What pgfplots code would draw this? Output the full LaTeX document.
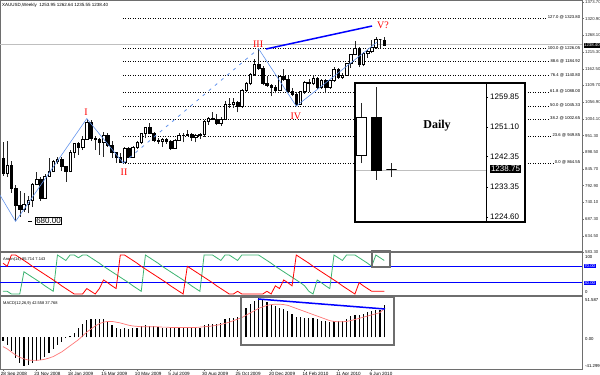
\documentclass[border=0pt]{standalone}
\usepackage{pgfplots}
\pgfplotsset{compat=1.18}
\usepackage{pgfplotstable}
\usepackage{fontspec}
\setmainfont{Liberation Sans}
\newfontfamily\tnr{Liberation Serif}
\definecolor{wave}{RGB}{100,149,237}
\definecolor{agreen}{RGB}{60,179,113}
\definecolor{sig}{RGB}{255,120,120}
\definecolor{frame}{RGB}{110,110,110}
\newcommand{\fs}[1]{\fontsize{#1}{#1}\selectfont}
% candles from a table: #1 table, #2 last row, #3 half body width, #4 wick width, #5 outline width
\newcommand\candles[5]{%
 \pgfplotsinvokeforeach{0,...,#2}{%
   \pgfplotstablegetelem{##1}{O}\of#1\edef\vO{\pgfplotsretval}%
   \pgfplotstablegetelem{##1}{H}\of#1\edef\vH{\pgfplotsretval}%
   \pgfplotstablegetelem{##1}{L}\of#1\edef\vL{\pgfplotsretval}%
   \pgfplotstablegetelem{##1}{C}\of#1\edef\vC{\pgfplotsretval}%
   \pgfmathsetmacro\xl{##1-#3}\pgfmathsetmacro\xr{##1+#3}%
   \ifdim\vC pt>\vO pt\def\fc{white}\else\def\fc{black}\fi
   \edef\tmp{\noexpand\addplot[black!85, line width=#4, forget plot] coordinates {(##1,\vL) (##1,\vH)};%
     \noexpand\addplot[draw=black, line width=#5, fill=\fc, forget plot] coordinates {(\xl,\vO) (\xr,\vO) (\xr,\vC) (\xl,\vC)} -- cycle;}%
   \tmp}}

\pgfplotstableread{
i O H L C up dn h s
0 880 930 825 832 7 79 -4 -12
1 832 935 820 858 7 71 -10 -15
2 858 870 770 785 0 100 -18 -19
3 785 795 680 730 0 100 -27 -23
4 730 775 695 718 0 93 -34 -26
5 718 770 710 735 57 86 -37 -28
6 735 760 705 748 50 79 -36 -29.5
7 748 800 725 797 43 71 -34 -30
8 797 835 795 814 36 64 -31 -30
9 814 820 745 752 29 57 -29 -29.5
10 752 830 750 822 21 50 -25 -28.5
11 822 880 820 840 14 43 -20 -27
12 840 875 835 870 7 36 -15 -25
13 870 882 860 878 100 29 -10 -22
14 878 885 840 853 93 21 -6 -19
15 853 856 806 838 86 14 -1 -15
16 838 905 835 900 100 7 2 -11
17 900 928 880 928 100 0 6 -7
18 928 932 890 914 93 0 12 -3
19 914 950 905 941 100 0 18 2
20 941 1005 938 992 100 14 23 7
21 992 1000 935 942 93 7 24.5 11
22 942 950 905 940 86 0 24.5 15
23 940 945 890 929 79 14 24.5 18
24 929 962 885 953 71 36 24 20
25 953 958 915 920 64 29 21 21
26 920 935 880 898 57 21 16 21
27 898 900 866 882 50 14 12 20
28 882 897 865 868 43 100 11.5 19
29 868 915 865 912 36 100 12 17.5
30 912 915 880 884 29 93 11.5 16
31 884 918 882 915 21 86 12 15
32 915 935 910 929 14 79 13 14.5
33 929 960 926 958 7 71 15 14
34 958 980 945 979 100 64 16 14
35 979 990 955 960 93 57 15.5 14
36 960 962 930 938 86 50 14.5 14
37 938 945 925 933 79 43 13.5 14
38 933 945 915 940 71 36 13 13.5
39 940 945 925 932 64 29 12.5 13.5
40 932 936 905 912 57 21 12 13
41 912 940 910 937 50 14 12.5 13
42 937 958 935 953 43 7 13 13
43 953 960 930 954 36 0 13 13
44 954 970 950 955 29 71 13 13
45 955 960 935 946 21 64 12.5 13
46 946 955 930 953 14 57 12.5 13
47 953 958 940 955 7 50 13 13.5
48 955 1000 948 996 100 43 16 14
49 996 1010 985 1006 100 36 17 14.5
50 1006 1025 1000 1004 100 29 17 15
51 1004 1020 985 990 93 21 17 16
52 990 1010 983 1004 86 14 19 17
53 1004 1062 1000 1050 100 7 24 18.5
54 1050 1070 1040 1052 100 0 25 20
55 1052 1070 1040 1056 93 0 26 22
56 1056 1060 1025 1045 86 7 27 24
57 1045 1100 1040 1095 100 0 35 26
58 1095 1120 1090 1118 100 0 38 29
59 1118 1150 1110 1146 100 0 44 32
60 1146 1195 1140 1176 100 0 48 35
61 1176 1226 1160 1165 100 0 51.6 38
62 1165 1170 1110 1118 93 0 49 40
63 1118 1140 1105 1109 86 7 47 42
64 1109 1115 1075 1104 79 0 44 43
65 1104 1110 1085 1096 71 21 41 43.5
66 1096 1140 1092 1138 64 14 39 43.5
67 1138 1162 1125 1130 57 36 37 43
68 1130 1140 1090 1092 50 29 34 42
69 1092 1102 1075 1081 43 21 31 40
70 1081 1090 1044 1050 36 100 27 38
71 1050 1092 1048 1090 29 93 27 36
72 1090 1123 1082 1120 21 86 26 34
73 1120 1130 1090 1118 7 79 26 32
74 1118 1140 1110 1133 0 71 25 30
75 1133 1138 1098 1103 36 64 24 28
76 1103 1130 1100 1125 29 57 22 26
77 1125 1130 1085 1105 21 50 21 24
78 1105 1128 1100 1125 14 43 20 22
79 1125 1168 1122 1162 100 36 21 21
80 1162 1164 1131 1137 93 29 21 20.5
81 1137 1150 1130 1142 86 21 22 20.5
82 1142 1180 1140 1180 100 14 24 21
83 1180 1210 1165 1208 100 7 28 22
84 1208 1249 1205 1228 100 0 30 23.5
85 1228 1232 1167 1177 93 29 30 25
86 1177 1216 1170 1212 86 21 31 26.5
87 1212 1223 1196 1218 79 14 33 28
88 1218 1252 1212 1230 71 7 35 29.5
89 1230 1262 1225 1256 100 7 36 31
90 1256 1258 1227 1256 93 7 36.5 32.5
91 1253.95 1262.64 1235.55 1238.40 86 7 42.558 37.768
}\data

\pgfplotstableread{
i O H L C
0 1242.8 1258.1 1240.4 1254.0
1 1253.95 1262.64 1235.55 1238.40
2 1238.45 1240.4 1236.3 1238.45
}\daily

\begin{document}
\begin{tikzpicture}[x=1pt,y=1pt]
\useasboundingbox (0,0) rectangle (600,375);
\clip (0,0) rectangle (600,375);
\pgfplotsset{
  mt/.style={scale only axis, xmin=-0.716, xmax=138.2, xtick=\empty,
    axis line style={frame, line width=0.8pt}},
}
% ---------------- main price panel
\begin{axis}[mt, at={(0pt,123pt)}, anchor=south west, width=582pt, height=252pt,
  ymin=583.2, ymax=1380,
  ytick={583.3,634.5,687.3,740.1,792.9,845.7,898.5,951.3,1004.1,1056.9,1109.7,1162.5,1215.3,1268.1,1320.9,1373.7},
  yticklabels={583.30,634.50,687.30,740.10,792.90,845.70,898.50,951.30,1004.10,1056.90,1109.70,1162.50,1215.30,1268.10,1320.90,1373.70},
  ytick pos=right, yticklabel pos=right, tick align=outside, major tick length=2pt,
  ytick style={frame, line width=0.5pt},
  yticklabel style={font=\fs{4.3}, text=black!85, inner sep=0.5pt, anchor=west, xshift=0.5pt}]
% bid line
\addplot[black!25, line width=0.6pt] coordinates {(-0.716,1238.4) (138.2,1238.4)};
% fibonacci levels
\addplot[black, line width=0.5pt, dash pattern=on 1pt off 1.5pt] coordinates {(28.64,1323.80) (137.9,1323.80)};
\addplot[black, line width=0.5pt, dash pattern=on 1pt off 1.5pt] coordinates {(28.64,1226.05) (137.9,1226.05)};
\addplot[black, line width=0.5pt, dash pattern=on 1pt off 1.5pt] coordinates {(28.64,1184.92) (137.9,1184.92)};
\addplot[black, line width=0.5pt, dash pattern=on 1pt off 1.5pt] coordinates {(28.64,1140.80) (137.9,1140.80)};
\addplot[black, line width=0.5pt, dash pattern=on 1pt off 1.5pt] coordinates {(28.64,1088.00) (137.9,1088.00)};
\addplot[black, line width=0.5pt, dash pattern=on 1pt off 1.5pt] coordinates {(28.64,1045.33) (137.9,1045.33)};
\addplot[black, line width=0.5pt, dash pattern=on 1pt off 1.5pt] coordinates {(28.64,1002.65) (137.9,1002.65)};
\addplot[black, line width=0.5pt, dash pattern=on 1pt off 1.5pt] coordinates {(28.64,949.85) (137.9,949.85)};
\addplot[black, line width=0.5pt, dash pattern=on 1pt off 1.5pt] coordinates {(28.64,864.55) (137.9,864.55)};
\node[anchor=east, font=\fs{4.2}, fill=white, inner sep=0.4pt, yshift=0.8pt] at (axis cs:137.9,1323.80) {127.0 @ 1323.80};
\node[anchor=east, font=\fs{4.2}, fill=white, inner sep=0.4pt, yshift=0.8pt] at (axis cs:137.9,1226.05) {100.0 @ 1226.05};
\node[anchor=east, font=\fs{4.2}, fill=white, inner sep=0.4pt, yshift=0.8pt] at (axis cs:137.9,1184.92) {88.6 @ 1184.92};
\node[anchor=east, font=\fs{4.2}, fill=white, inner sep=0.4pt, yshift=0.8pt] at (axis cs:137.9,1140.80) {76.4 @ 1140.80};
\node[anchor=east, font=\fs{4.2}, fill=white, inner sep=0.4pt, yshift=0.8pt] at (axis cs:137.9,1088.00) {61.8 @ 1088.00};
\node[anchor=east, font=\fs{4.2}, fill=white, inner sep=0.4pt, yshift=0.8pt] at (axis cs:137.9,1045.33) {50.0 @ 1045.33};
\node[anchor=east, font=\fs{4.2}, fill=white, inner sep=0.4pt, yshift=0.8pt] at (axis cs:137.9,1002.65) {38.2 @ 1002.65};
\node[anchor=east, font=\fs{4.2}, fill=white, inner sep=0.4pt, yshift=0.8pt] at (axis cs:137.9,949.85) {23.6 @ 949.85};
\node[anchor=east, font=\fs{4.2}, fill=white, inner sep=0.4pt, yshift=0.8pt] at (axis cs:137.9,864.55) {0.0 @ 864.55};
% candles
\candles{\data}{91}{0.3}{0.5pt}{0.45pt}
% wave lines
\addplot[wave, line width=0.6pt] coordinates {(-0.716,763) (3,680) (20,1005) (28.7,864.55)};
\addplot[wave, line width=0.8pt, dash pattern=on 3pt off 5pt] coordinates {(28.7,864.55) (61,1226)};
\addplot[wave, line width=0.6pt] coordinates {(61,1226) (70,1044.5) (89.3,1247)};
\addplot[blue, line width=1.5pt] coordinates {(62.8,1225.1) (88.1,1297.8)};
% wave labels
\node[text=red, font=\tnr\fs{10}] at (axis cs:19.8,1026) {I};
\node[text=red, font=\tnr\fs{10}] at (axis cs:28.9,836) {II};
\node[text=red, font=\tnr\fs{10}] at (axis cs:60.9,1241) {III};
\node[text=red, font=\tnr\fs{10}] at (axis cs:69.9,1013) {IV};
\node[text=red, font=\tnr\fs{10}] at (axis cs:90.7,1301) {V?};
% 680 label
\addplot[black, line width=0.5pt] coordinates {(5.97,680) (6.9,680)};
\node[draw=black, line width=0.5pt, fill=white, font=\fs{8}, inner sep=0.8pt] at (axis cs:10.86,682.8) {680.00};
\end{axis}
% header
\node[anchor=west, font=\fs{4.5}, inner sep=0pt] at (2,369.5) {XAUUSD,Weekly\ \ 1253.95 1262.64 1235.55 1238.40};
\node[anchor=west, fill=black, text=white, font=\fs{4.3}, inner sep=0.5pt] at (583.5,329.5) {1238.40};

% ---------------- daily inset
\fill[white] (355,153) rectangle (525,292);
\begin{axis}[at={(355pt,153pt)}, anchor=south west, scale only axis, width=131pt, height=139pt,
  xmin=-0.433, xmax=8.3, ymin=1223.13, ymax=1263.96, xtick=\empty,
  ytick={1224.60,1233.35,1242.35,1251.10,1259.85},
  yticklabels={1224.60,1233.35,1242.35,1251.10,1259.85},
  ytick pos=right, yticklabel pos=right, tick align=outside, major tick length=2pt,
  ytick style={black, line width=0.5pt},
  yticklabel style={font=\fs{8}, inner sep=1pt, anchor=west, xshift=1pt},
  axis line style={black, line width=0.8pt}]
\addplot[black!25, line width=0.7pt] coordinates {(-0.433,1238.4) (8.3,1238.4)};
\candles{\daily}{2}{0.34}{0.8pt}{0.8pt}
\end{axis}
\node[fill=black, text=white, font=\fs{8}, inner sep=1.2pt] at (505.5,205.8) {1238.75};
\node[font=\tnr\bfseries\fs{12}] at (437,249) {Daily};
\draw[black, line width=1.6pt] (355,153) rectangle (525,292);

% ---------------- Aroon panel
\begin{axis}[mt, at={(0pt,79pt)}, anchor=south west, width=582pt, height=44pt,
  ymin=-5.1, ymax=107.7, ytick=\empty]
\addplot[blue, line width=0.6pt] coordinates {(-0.716,70) (138.2,70)};
\addplot[blue, line width=0.6pt] coordinates {(-0.716,30) (138.2,30)};
\addplot[agreen, line width=0.8pt] table[x=i, y=up] {\data};
\addplot[red, line width=0.8pt] table[x=i, y=dn] {\data};
\end{axis}
\node[anchor=west, font=\fs{4}, inner sep=0pt] at (3,116) {Aroon(14) 85.714 7.143};
\node[anchor=west, font=\fs{4.3}, inner sep=0pt] at (585,118.3) {100};
\node[anchor=west, font=\fs{4.3}, fill=blue, text=white, inner sep=0.6pt] at (583.5,109) {70.00};
\node[anchor=west, font=\fs{4.3}, fill=blue, text=white, inner sep=0.6pt] at (583.5,92.3) {30.00};
\node[anchor=west, font=\fs{4.3}, inner sep=0pt] at (585,83.3) {0};
\draw[frame, line width=1.2pt] (372,124) rectangle (390,108);

% ---------------- MACD panel
\begin{axis}[mt, at={(0pt,6pt)}, anchor=south west, width=582pt, height=73pt,
  ymin=-41.299, ymax=54.24, ytick=\empty,
  xtick={0,8,...,88},
  xticklabels={28 Sep 2008,23 Nov 2008,18 Jan 2009,15 Mar 2009,10 May 2009,5 Jul 2009,30 Aug 2009,25 Oct 2009,20 Dec 2009,14 Feb 2010,11 Apr 2010,6 Jun 2010},
  xtick pos=bottom, tick align=outside, major tick length=2pt,
  xtick style={frame, line width=0.5pt},
  xticklabel style={font=\fs{4.6}, anchor=north west, inner sep=0pt, xshift=-2.3pt, yshift=-0.8pt}]
\addplot[ycomb, black, line width=1.2pt] table[x=i, y=h] {\data};
\addplot[sig, line width=0.7pt] table[x=i, y=s] {\data};
\end{axis}
\node[anchor=west, font=\fs{4}, inner sep=0pt] at (3,72) {MACD(12,26,9) 42.558 37.768};
\node[anchor=west, font=\fs{4.3}, inner sep=0pt] at (585,75) {51.587};
\node[anchor=west, font=\fs{4.3}, inner sep=0pt] at (585,36) {0.00};
\node[anchor=west, font=\fs{4.3}, inner sep=0pt] at (585,9) {-41.299};
\draw[frame, line width=1.2pt] (241,78) rectangle (394,30);
\draw[blue, line width=1.5pt] (258,76) -- (385,66);
% separators
\draw[frame, line width=1.4pt] (0,123) -- (582,123);
\draw[frame, line width=1.4pt] (0,79) -- (582,79);
\end{tikzpicture}
\end{document}
